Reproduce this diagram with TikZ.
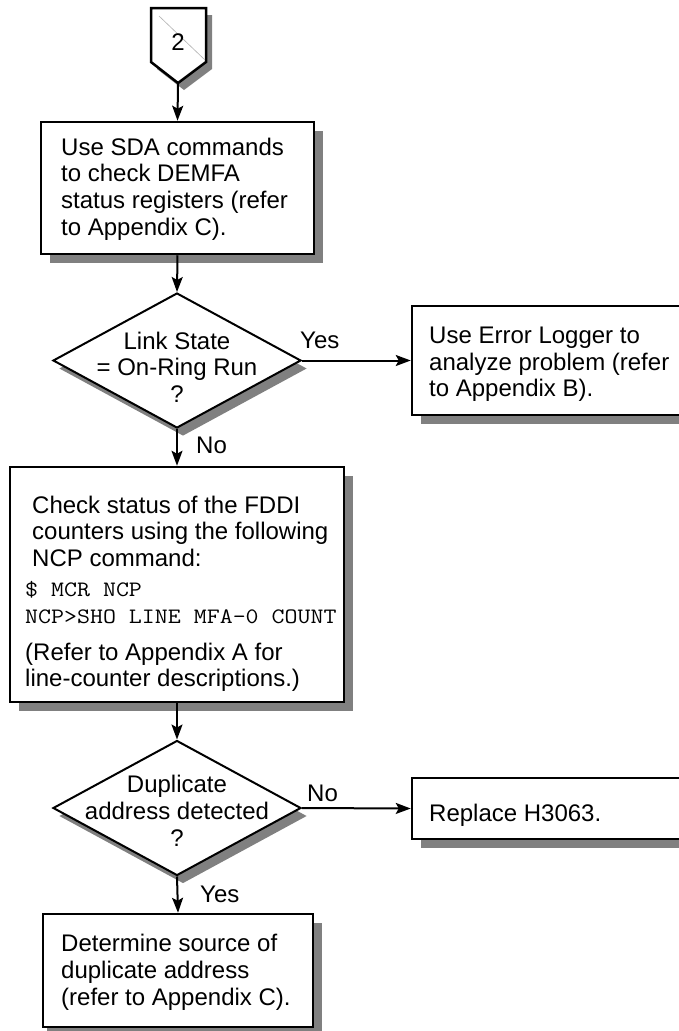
\documentclass[tikz,border=0pt]{standalone}
\usepackage{fontspec}
\setmainfont{Liberation Sans}
\usepackage{graphicx}
\usetikzlibrary{arrows.meta,shapes.geometric,shadows}

% terminal lines, set in a slightly widened typewriter face
\newcommand\monoline[1]{\scalebox{1.145}[1]{\fontsize{22}{26.7}\selectfont\ttfamily #1}}

\begin{document}
\begin{tikzpicture}[x=1pt,y=-1pt,
  txt/.style={inner sep=0pt, font=\fontsize{24}{26.7}\selectfont},
  boxtxt/.style={txt, align=left, anchor=north west},
  dtxt/.style={txt, align=center, anchor=north},
  lbl/.style={txt, anchor=base west},
  stepbox/.style={draw, line width=2.5pt, fill=white, rectangle, inner sep=0pt,
    general shadow={fill=gray, shadow xshift=9pt, shadow yshift=-9pt}},
  decision/.style={draw, line width=2pt, fill=white, diamond, inner sep=0pt,
    minimum width=248pt, minimum height=135pt,
    general shadow={fill=gray, shadow xshift=6pt, shadow yshift=-8pt}},
  flow/.style={line width=2pt, -{Stealth[length=15pt,width=11pt,inset=3pt]}}
]
\useasboundingbox (0,0) rectangle (679,1031);
\clip (0,0) rectangle (679,1031);

% off-page connector "2"
\fill[gray, shift={(6,7)}] (151,8) -- (206,8) -- (206,62) -- (178,83) -- (151,62) -- cycle;
\draw[line width=2.5pt, fill=white] (151,8) -- (206,8) -- (206,62) -- (178,83) -- (151,62) -- cycle;
\draw[gray!60, line width=0.6pt] (159,16) -- (205,60);
\node[txt, anchor=base] (tagnum) at (178,50) {2};
\coordinate (tag) at (178,83);

% process boxes
\node[stepbox, minimum width=273pt, minimum height=132pt] (box1) at (177.5,188) {};
\node[stepbox, minimum width=300pt, minimum height=109pt] (box2) at (562,360.5) {};
\node[stepbox, minimum width=334pt, minimum height=235pt] (box3) at (177,584.5) {};
\node[stepbox, minimum width=300pt, minimum height=61pt] (box4) at (562,808.5) {};
\node[stepbox, minimum width=270pt, minimum height=113pt,
  general shadow={fill=gray, shadow xshift=4pt, shadow yshift=-9pt}] (box5) at (178,970.5) {};

% decisions
\node[decision] (d1) at (177,360.5) {};
\node[decision] (d2) at (177,808) {};

% box texts
\node[boxtxt] (t1) at (61,137.6) {Use SDA commands\\to check DEMFA\\status registers (refer\\to Appendix C).};
\node[boxtxt] (t2) at (429,326.6) {Use Error Logger to\\analyze problem (refer\\to Appendix B).};
\node[boxtxt] (t3) at (25,495.6) {\hspace*{7pt}Check status of the FDDI\\
  \hspace*{7pt}counters using the following\\
  \hspace*{7pt}NCP command:\\[3pt]
  \monoline{\$ MCR NCP}\\
  \monoline{NCP>SHO LINE MFA–0 COUNT}\\[10.5pt]
  (Refer to Appendix A for\\
  line-counter descriptions.)};
\node[boxtxt] (t4) at (429,803.6) {Replace H3063.};
\node[boxtxt] (t5) at (61,934.3) {Determine source of\\duplicate address\\(refer to Appendix C).};

% decision texts
\node[dtxt] (q1) at (177,331.6) {Link State\\= On-Ring Run\\?};
\node[dtxt] (q2) at (177,775) {Duplicate\\address detected\\?};

% connectors
\draw[flow] (tag) -- (box1.north);
\draw[flow] (box1.south) -- (d1.north);
\draw[flow] (d1.east) -- (box2.west);
\draw[flow] (d1.south) -- (box3.north);
\draw[flow] (box3.south) -- (d2.north);
\draw[flow] (d2.east) -- (box4.west);
\draw[flow] (d2.south) -- (box5.north);

% branch labels
\node[lbl] (yes1) at (300,348) {Yes};
\node[lbl] (no1) at (196,453) {No};
\node[lbl] (no2) at (307,801) {No};
\node[lbl] (yes2) at (200,902.5) {Yes};
\end{tikzpicture}
\end{document}
